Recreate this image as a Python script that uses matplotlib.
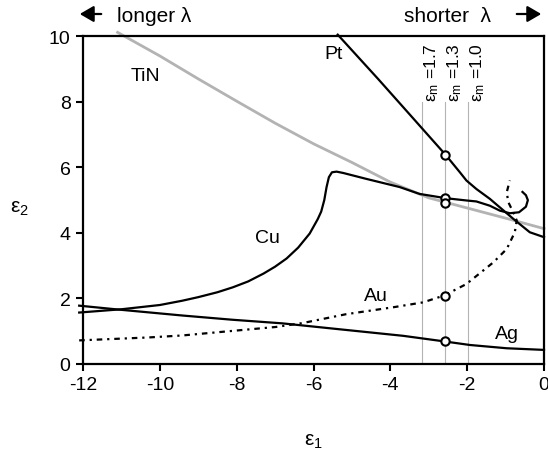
import matplotlib
matplotlib.use("Agg")
import matplotlib.pyplot as plt
from matplotlib.patches import FancyArrowPatch

plt.rcParams['font.family'] = ['Liberation Sans', 'DejaVu Sans']
plt.rcParams['mathtext.fontset'] = 'custom'
plt.rcParams['mathtext.rm'] = 'Liberation Sans'
plt.rcParams['mathtext.it'] = 'Liberation Sans:italic'
plt.rcParams['axes.unicode_minus'] = False

# curves (eps1, eps2)
pt_x = [-5.37, -4.32, -3.5, -2.56, -2.19, -2.02, -1.76, -1.41, -1.10, -0.80, -0.37, 0.0]
pt_y = [10.05, 8.70, 7.62, 6.38, 5.85, 5.60, 5.34, 5.04, 4.73, 4.43, 4.02, 3.87]

cu_x = [-12.1, -11.0, -10.0, -9.42, -9.0, -8.5, -8.1, -7.7, -7.3, -7.0, -6.7, -6.4, -6.1,
        -5.89, -5.8, -5.72, -5.66, -5.6, -5.52, -5.4, -5.23, -4.63, -3.76, -3.24, -2.56,
        -2.02, -1.76, -1.41, -1.15, -0.89, -0.65, -0.47, -0.42, -0.47, -0.56]
cu_y = [1.57, 1.67, 1.80, 1.93, 2.04, 2.19, 2.34, 2.52, 2.76, 2.97, 3.22, 3.55, 3.98,
        4.42, 4.65, 5.00, 5.40, 5.70, 5.85, 5.87, 5.83, 5.65, 5.40, 5.19, 5.06,
        4.99, 4.96, 4.83, 4.68, 4.60, 4.63, 4.80, 5.00, 5.15, 5.25]

tin_x = [-11.1, -10.0, -9.0, -8.0, -7.0, -6.0, -5.0, -4.0, -3.0, -2.0, -1.0, 0.0]
tin_y = [10.12, 9.40, 8.70, 8.02, 7.35, 6.72, 6.15, 5.55, 5.07, 4.76, 4.45, 4.13]

au_x = [-12.1, -10.29, -9.42, -8.11, -6.98, -6.28, -5.15, -3.93, -3.15, -2.6, -2.02, -1.32,
        -0.97, -0.76, -0.71, -0.80, -0.93, -0.97, -0.89]
au_y = [0.72, 0.81, 0.87, 1.01, 1.13, 1.25, 1.52, 1.73, 1.88, 2.09, 2.44, 3.10,
        3.51, 4.02, 4.38, 4.63, 4.94, 5.24, 5.60]

ag_x = [-12.1, -11.07, -9.42, -8.11, -6.81, -5.41, -3.67, -2.6, -1.93, -0.97, 0.0]
ag_y = [1.78, 1.66, 1.48, 1.35, 1.24, 1.07, 0.86, 0.69, 0.58, 0.48, 0.43]

# markers at eps_m = 1.3
mark_x = [-2.58, -2.58, -2.58, -2.58, -2.58]
mark_y = [6.38, 5.06, 4.90, 2.09, 0.69]

vline_x = [-3.17, -2.58, -1.97]
vline_lab = ['1.7', '1.3', '1.0']

labels = ['Pt', 'TiN', 'Cu', 'Au', 'Ag']
label_x = [-5.48, -10.38, -7.19, -4.37, -0.97]
label_y = [9.47, 8.80, 3.87, 2.09, 0.92]

fig = plt.figure(figsize=(5.48, 4.52), dpi=100)
ax = fig.add_axes([0.1515, 0.1925, 0.8412, 0.725])

for x, lab in zip(vline_x, vline_lab):
    ax.plot([x, x], [0, 8.0], color='#b4b4b4', lw=0.8, zorder=1)
    ax.text(x + 0.01, 8.03, r'$\mathregular{ε_m}$ =' + lab, rotation=90,
            ha='left', va='bottom', fontsize=12.5)

ax.plot(tin_x, tin_y, color='#b3b3b3', lw=2.0, zorder=2, clip_on=False)
ax.plot(pt_x, pt_y, color='black', lw=1.6, zorder=3, clip_on=False)
ax.plot(cu_x, cu_y, color='black', lw=1.6, zorder=3, clip_on=False)
ax.plot(au_x, au_y, color='black', lw=1.6, zorder=3, clip_on=False,
        linestyle=(0, (2.5, 2.2, 1.0, 2.2)))
ax.plot(ag_x, ag_y, color='black', lw=1.6, zorder=3, clip_on=False)
ax.plot(mark_x, mark_y, 'o', ms=6, mfc='white', mec='black', mew=1.5, zorder=4)

for lab, x, y in zip(labels, label_x, label_y):
    ax.text(x, y, lab, ha='center', va='center', fontsize=14)

ax.set_xlim(-12, 0)
ax.set_ylim(0, 10)
ax.set_xticks(range(-12, 1, 2))
ax.set_yticks(range(0, 11, 2))
ax.tick_params(direction='out', length=5, width=1.5, labelsize=14, pad=4)
for s in ax.spines.values():
    s.set_linewidth(1.6)

ax.set_xlabel(r'$\mathregular{ε_1}$', fontsize=15)
ax.xaxis.set_label_coords(0.499, -0.232)
ax.xaxis.label.set_va('center')
ax.set_ylabel(r'$\mathregular{ε_2}$', fontsize=15, rotation=0)
ax.yaxis.set_label_coords(-0.137, 0.479)
ax.yaxis.label.set_va('center')

# header with direction arrows
fig.text(117 / 548, 1 - 16 / 452, 'longer λ', fontsize=15, ha='left', va='center')
fig.text(491 / 548, 1 - 16 / 452, 'shorter  λ', fontsize=15, ha='right', va='center')
head = '-|>,head_length=0.6,head_width=0.35'
fig.add_artist(FancyArrowPatch((104 / 548, 1 - 15 / 452), (77 / 548, 1 - 15 / 452),
                               transform=fig.transFigure, arrowstyle=head, color='black',
                               lw=1.6, mutation_scale=14))
fig.add_artist(FancyArrowPatch((514 / 548, 1 - 15 / 452), (544 / 548, 1 - 15 / 452),
                               transform=fig.transFigure, arrowstyle=head, color='black',
                               lw=1.6, mutation_scale=14))

fig.savefig('out.png', dpi=100)
